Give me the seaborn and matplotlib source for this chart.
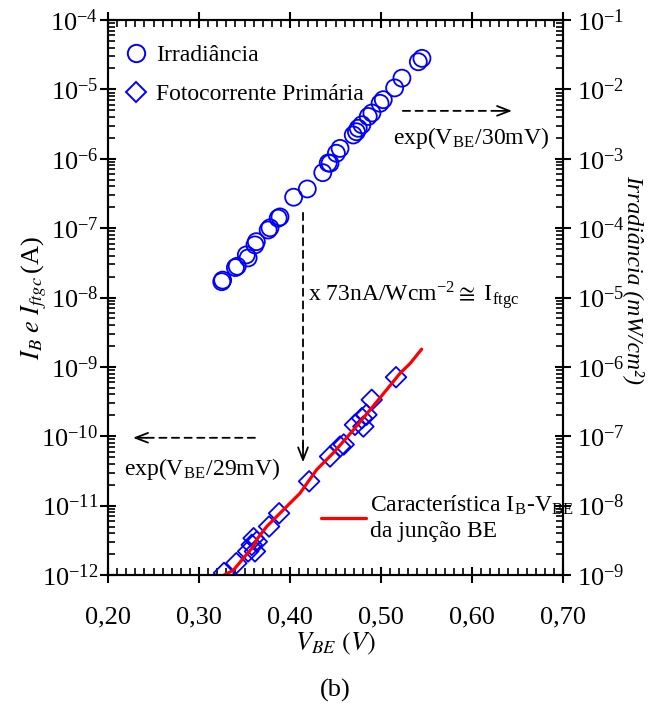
import numpy as np
import pandas as pd
import matplotlib
matplotlib.use('Agg')
import matplotlib.pyplot as plt
import seaborn as sns
from matplotlib.ticker import LogLocator, LogFormatterMathtext, MultipleLocator, NullFormatter
from matplotlib.lines import Line2D

# Irradiance (right axis, mW/cm^2) vs VBE
irr_v = [0.325, 0.326, 0.340, 0.342, 0.352, 0.354, 0.3615, 0.363, 0.376, 0.378, 0.387, 0.389,
         0.404, 0.419, 0.436, 0.442, 0.444, 0.451, 0.455, 0.4695, 0.473, 0.475, 0.479, 0.486,
         0.490, 0.499, 0.5025, 0.515, 0.523, 0.541, 0.545]
irr = [1.69e-5, 1.78e-5, 2.70e-5, 2.82e-5, 4.11e-5, 3.72e-5, 5.73e-5, 6.38e-5, 9.4e-5, 1.01e-4,
       1.39e-4, 1.45e-4, 2.79e-4, 3.67e-4, 6.3e-4, 8.7e-4, 8.6e-4, 1.20e-3, 1.41e-3, 2.20e-3,
       2.45e-3, 2.75e-3, 3.09e-3, 4.07e-3, 4.57e-3, 6.3e-3, 7.1e-3, 1.05e-2, 1.45e-2, 2.5e-2, 2.8e-2]

# Primary photocurrent (left axis, A)
ftgc_v = [0.3275, 0.341, 0.354, 0.358, 0.360, 0.3635, 0.3615, 0.377, 0.388, 0.421, 0.444,
          0.455, 0.459, 0.4714, 0.4806, 0.479, 0.484, 0.4898, 0.5165]
ftgc = [1.07e-12, 1.48e-12, 2.19e-12, 2.72e-12, 3.39e-12, 3.02e-12, 2.19e-12, 5.0e-12, 7.76e-12,
        2.24e-11, 5.1e-11, 7.1e-11, 7.6e-11, 1.46e-10, 1.38e-10, 1.82e-10, 2.04e-10, 3.35e-10, 7.1e-10]

# IB-VBE characteristic of BE junction
ib_v = [0.3275, 0.3377, 0.3505, 0.3597, 0.3634, 0.3744, 0.3927, 0.411, 0.4293, 0.4476,
        0.4696, 0.488, 0.5063, 0.521, 0.532, 0.5447]
ib = [1.0e-12, 1.17e-12, 1.86e-12, 2.57e-12, 3.24e-12, 5.0e-12, 8.7e-12, 1.51e-11, 3.3e-11,
      5.75e-11, 1.23e-10, 2.4e-10, 4.7e-10, 8.1e-10, 1.12e-9, 1.8e-9]

xticks = [0.20, 0.30, 0.40, 0.50, 0.60, 0.70]
xticklabels = ['0,20', '0,30', '0,40', '0,50', '0,60', '0,70']

sns.set_style('ticks')
plt.rcParams['font.family'] = ['Liberation Serif', 'DejaVu Serif']
plt.rcParams['mathtext.fontset'] = 'stix'
plt.rcParams['axes.linewidth'] = 1.5
for k in ['text.color', 'axes.labelcolor', 'xtick.color', 'ytick.color', 'axes.edgecolor']:
    plt.rcParams[k] = 'black'

fig = plt.figure(figsize=(6.49, 7.17), dpi=100)
ax = fig.add_axes([108/649, 1-575/717, 455/649, 555/717])
ax2 = ax.twinx()

blue = '#0000ff'
sns.scatterplot(x=ftgc_v, y=ftgc, ax=ax, marker='D', s=110, facecolor='none',
                edgecolor=blue, linewidth=1.3, zorder=2)
sns.lineplot(x=ib_v, y=ib, ax=ax, color='#ff0000', linewidth=2.3, sort=False,
             estimator=None, zorder=3)
sns.scatterplot(x=irr_v, y=irr, ax=ax2, marker='o', s=150, facecolor='none',
                edgecolor=blue, linewidth=1.3)

ax.set_yscale('log')
ax2.set_yscale('log')
ax.set_xlim(0.20, 0.70)
ax.set_ylim(1e-12, 1e-4)
ax2.set_ylim(1e-9, 1e-1)

ax.set_xticks(xticks)
ax.set_xticklabels(xticklabels)
ax.xaxis.set_minor_locator(MultipleLocator(0.01))
for a in (ax, ax2):
    a.yaxis.set_major_locator(LogLocator(base=10, numticks=20))
    a.yaxis.set_major_formatter(LogFormatterMathtext())
    a.yaxis.set_minor_locator(LogLocator(base=10, subs=np.arange(2, 10), numticks=20))
    a.yaxis.set_minor_formatter(NullFormatter())

ax.tick_params(which='major', direction='inout', length=12, width=1.5, top=True,
               labelsize=19, pad=1)
ax.tick_params(which='minor', direction='in', length=5, width=1.2, top=True)
ax.tick_params(axis='x', which='major', pad=17)
ax2.tick_params(which='major', direction='inout', length=12, width=1.5, labelsize=19, pad=4)
ax2.tick_params(which='minor', direction='in', length=5, width=1.2)
for s in ax2.spines.values():
    s.set_linewidth(1.5)

ax.set_xlabel(r'$V_{BE}\ (V)$', fontsize=19, labelpad=1)
ax.set_ylabel(r'$I_B\ e\ I_{ftgc}\,$(A)', fontsize=19)
ax.yaxis.set_label_coords(-0.13, 0.5)
ax2.set_ylabel('Irradiância (mW/cm²)', fontsize=17, fontstyle='italic', rotation=270)
ax2.yaxis.set_label_coords(1.18, 0.532)

# legends
h1 = Line2D([], [], marker='o', linestyle='none', markerfacecolor='none',
            markeredgecolor=blue, markersize=12.5, markeredgewidth=1.4)
h2 = Line2D([], [], marker='D', linestyle='none', markerfacecolor='none',
            markeredgecolor=blue, markersize=10, markeredgewidth=1.4)
leg1 = ax2.legend([h1, h2], ['Irradiância', 'Fotocorrente Primária'], loc='upper left',
                  bbox_to_anchor=(-0.012, 0.99), frameon=False, fontsize=17,
                  handletextpad=0.25, labelspacing=0.75, borderpad=0.3, handlelength=1.2)
ax2.add_artist(leg1)
h3 = Line2D([], [], color='#ff0000', linewidth=2.3)
ax2.legend([h3], ['Característica I$_\\mathregular{B}$-V$_\\mathregular{BE}$\nda junção BE'],
           loc='center left', bbox_to_anchor=(0.442, 0.103), frameon=False, fontsize=17,
           handlelength=1.9, handletextpad=0.2, borderpad=0, labelspacing=0.2)

# annotations
dash = dict(arrowstyle='-', linestyle=(0, (4, 3)), linewidth=1.3, color='black',
            shrinkA=0, shrinkB=0)
head = dict(arrowstyle='->,head_length=0.9,head_width=0.35', linewidth=1.3, color='black',
            shrinkA=0, shrinkB=0)
# right arrow
ax.annotate('', xy=(0.634, 4.9e-6), xytext=(0.524, 4.9e-6), arrowprops=dash)
ax.annotate('', xy=(0.644, 4.9e-6), xytext=(0.630, 4.9e-6), arrowprops=head)
ax.text(0.513, 2.0e-6, r'exp(V$_\mathregular{BE}$/30mV)', fontsize=17, va='center', ha='left')
# left arrow
ax.annotate('', xy=(0.238, 9.5e-11), xytext=(0.3615, 9.5e-11), arrowprops=dash)
ax.annotate('', xy=(0.2275, 9.5e-11), xytext=(0.242, 9.5e-11), arrowprops=head)
ax.text(0.218, 3.4e-11, r'exp(V$_\mathregular{BE}$/29mV)', fontsize=17, va='center', ha='left')
# vertical arrow
ax.annotate('', xy=(0.4143, 6.5e-11), xytext=(0.4143, 1.66e-7), arrowprops=dash)
ax.annotate('', xy=(0.4143, 4.2e-11), xytext=(0.4143, 8e-11), arrowprops=head)
ax.text(0.4198, 1.05e-8, r'x 73nA/Wcm$^\mathregular{-2}$$\cong$ I$_\mathregular{ftgc}$',
        fontsize=17, va='center', ha='left')

fig.text(335/649, 1 - 690/717, '(b)', fontsize=19, ha='center', va='center')

fig.savefig('out.png', dpi=100)
